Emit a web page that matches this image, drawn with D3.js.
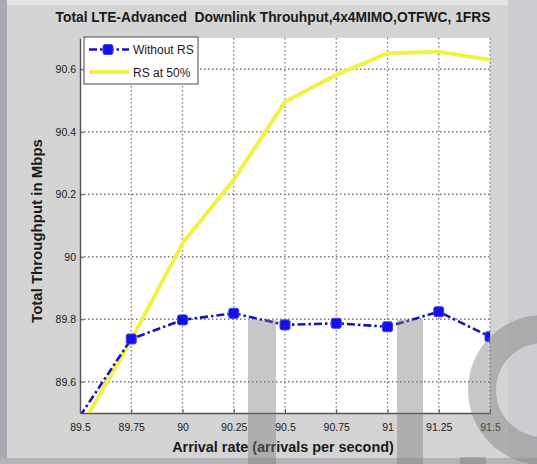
<!DOCTYPE html>
<html>
<head>
<meta charset="utf-8">
<script src="https://cdn.jsdelivr.net/npm/d3@7/dist/d3.min.js"></script>
<style>
  html, body { margin: 0; padding: 0; background: #d4d4d4; }
  svg { display: block; }
  text { font-family: "Liberation Sans", Arial, sans-serif; fill: #1a1a1a; }
</style>
</head>
<body>
<svg id="chart" width="537" height="464"></svg>
<script>
// Arrival rates (x) and throughput series (Mbps)
const arrivalRates = [89.5, 89.75, 90, 90.25, 90.5, 90.75, 91, 91.25, 91.5];
const withoutRS    = [89.49, 89.737, 89.798, 89.819, 89.782, 89.787, 89.776, 89.824, 89.744];
const rsAt50       = [89.45, 89.734, 90.043, 90.246, 90.496, 90.582, 90.651, 90.656, 90.63];

const xTickValues = [89.5, 89.75, 90, 90.25, 90.5, 90.75, 91, 91.25, 91.5];
const xTickLabels = ["89.5", "89.75", "90", "90.25", "90.5", "90.75", "91", "91.25", "91.5"];
const yTickValues = [89.6, 89.8, 90, 90.2, 90.4, 90.6];
const yTickLabels = ["89.6", "89.8", "90", "90.2", "90.4", "90.6"];

const seriesNames = ["Without RS", "RS at 50%"];

const titleText = "Total LTE-Advanced  Downlink Throuhput,4x4MIMO,OTFWC, 1FRS";
const xLabelText = "Arrival rate (arrivals per second)";
const yLabelText = "Total Throughput in Mbps";

const W = 537, H = 464;
const plot = { left: 80, right: 490, top: 38, bottom: 413 };

const svg = d3.select("#chart");

// window frame strips
svg.append("rect").attr("x", 0).attr("y", 0).attr("width", W).attr("height", H).attr("fill", "#d4d4d4");
svg.append("rect").attr("x", 0).attr("y", 0).attr("width", W).attr("height", 5).attr("fill", "#e4e4e4");
svg.append("rect").attr("x", 508).attr("y", 0).attr("width", W - 508).attr("height", H).attr("fill", "#cccdd0");
svg.append("rect").attr("x", 0).attr("y", 0).attr("width", 7).attr("height", H).attr("fill", "#a9abb0");
svg.append("rect").attr("x", 0).attr("y", 458).attr("width", W).attr("height", 6).attr("fill", "#b4b4b6");

const x = d3.scaleLinear().domain([89.5, 91.5]).range([plot.left, plot.right]);
const y = d3.scaleLinear().domain([89.5, 90.7]).range([plot.bottom, plot.top]);

// plot area
svg.append("rect")
  .attr("x", plot.left).attr("y", plot.top)
  .attr("width", plot.right - plot.left).attr("height", plot.bottom - plot.top)
  .attr("fill", "#ffffff");

svg.append("clipPath").attr("id", "plotClip")
  .append("rect")
  .attr("x", plot.left).attr("y", plot.top)
  .attr("width", plot.right - plot.left).attr("height", plot.bottom - plot.top);

// dotted grid
const grid = svg.append("g").attr("stroke", "#7a7a7a").attr("stroke-width", 1.3)
  .attr("stroke-dasharray", "1.5,2.5").attr("fill", "none");
xTickValues.slice(1).forEach(v => {
  grid.append("line").attr("x1", x(v)).attr("x2", x(v)).attr("y1", plot.top).attr("y2", plot.bottom);
});
yTickValues.forEach(v => {
  grid.append("line").attr("x1", plot.left).attr("x2", plot.right).attr("y1", y(v)).attr("y2", y(v));
});

// axes
const xAxis = d3.axisBottom(x).tickValues(xTickValues)
  .tickFormat((d, i) => xTickLabels[i]).tickSizeInner(-4).tickSizeOuter(0).tickPadding(11);
const yAxis = d3.axisLeft(y).tickValues(yTickValues)
  .tickFormat((d, i) => yTickLabels[i]).tickSizeInner(-4).tickSizeOuter(0).tickPadding(4);

const gx = svg.append("g").attr("transform", `translate(0,${plot.bottom})`).call(xAxis);
const gy = svg.append("g").attr("transform", `translate(${plot.left},0)`).call(yAxis);
[gx, gy].forEach(g => {
  g.select(".domain").attr("stroke", "#555").attr("stroke-width", 1.4);
  g.selectAll(".tick line").attr("stroke", "#555");
  g.selectAll(".tick text").attr("font-size", 10.5).attr("fill", "#3a3a3a")
    .style("font-family", "'Liberation Sans Narrow', 'Liberation Sans', Arial, sans-serif");
});

// series
const lineGen = d3.line().x((d, i) => x(arrivalRates[i])).y(d => y(d));
const series = svg.append("g").attr("clip-path", "url(#plotClip)");

series.append("path").datum(rsAt50)
  .attr("d", lineGen).attr("fill", "none")
  .attr("stroke", "#f2f246").attr("stroke-width", 4).attr("stroke-linejoin", "round");

series.append("path").datum(withoutRS)
  .attr("d", lineGen).attr("fill", "none")
  .attr("stroke", "#1616c0").attr("stroke-width", 2.6)
  .attr("stroke-dasharray", "8,3,2.5,3");

const mk = 10;
series.selectAll("rect.marker")
  .data(withoutRS.map((v, i) => [arrivalRates[i], v]).filter(d => d[1] >= 89.5))
  .join("rect").attr("class", "marker")
  .attr("x", d => x(d[0]) - mk / 2).attr("y", d => y(d[1]) - mk / 2)
  .attr("width", mk).attr("height", mk).attr("rx", 2)
  .attr("fill", "#1212e6").attr("stroke", "#4040f0").attr("stroke-width", 1);

// legend
const lg = svg.append("g");
lg.append("rect").attr("x", 84).attr("y", 37).attr("width", 114).attr("height", 47)
  .attr("fill", "#ffffff").attr("stroke", "#666").attr("stroke-width", 1.2);
lg.append("line").attr("x1", 89).attr("x2", 129).attr("y1", 49.5).attr("y2", 49.5)
  .attr("stroke", "#1616c0").attr("stroke-width", 2.6).attr("stroke-dasharray", "8,3,2.5,3");
lg.append("rect").attr("x", 108 - mk / 2).attr("y", 49.5 - mk / 2).attr("width", mk).attr("height", mk)
  .attr("rx", 2).attr("fill", "#1212e6").attr("stroke", "#4040f0");
lg.append("line").attr("x1", 89).attr("x2", 129).attr("y1", 72).attr("y2", 72)
  .attr("stroke", "#f2f246").attr("stroke-width", 4);
lg.selectAll("text.leg").data(seriesNames).join("text").attr("class", "leg")
  .attr("x", 133).attr("y", (d, i) => 54 + i * 22.5)
  .attr("font-size", 12).attr("fill", "#444").text(d => d);

// titles
svg.append("text").attr("x", 273).attr("y", 22).attr("text-anchor", "middle")
  .attr("font-size", 13.8).attr("font-weight", "bold").style("white-space", "pre").text(titleText);
svg.append("text").attr("x", 283).attr("y", 452).attr("text-anchor", "middle")
  .attr("font-size", 14.4).attr("font-weight", "bold").text(xLabelText);
svg.append("text").attr("transform", "translate(42,231) rotate(-90)").attr("text-anchor", "middle")
  .attr("font-size", 15).attr("font-weight", "bold").text(yLabelText);

// watermark overlay
const wm = svg.append("g").attr("fill", "#7a7a7a").attr("fill-opacity", 0.42);
wm.append("rect").attr("x", 248).attr("y", 320).attr("width", 28).attr("height", H - 320);
wm.append("rect").attr("x", 397).attr("y", 320).attr("width", 26).attr("height", H - 320);
wm.append("rect").attr("x", 460).attr("y", 457).attr("width", 26).attr("height", 7);
wm.append("path")
  .attr("transform", "translate(543,390)")
  .attr("d", d3.arc().innerRadius(47).outerRadius(75).startAngle(0).endAngle(-Math.PI)());
</script>
</body>
</html>
